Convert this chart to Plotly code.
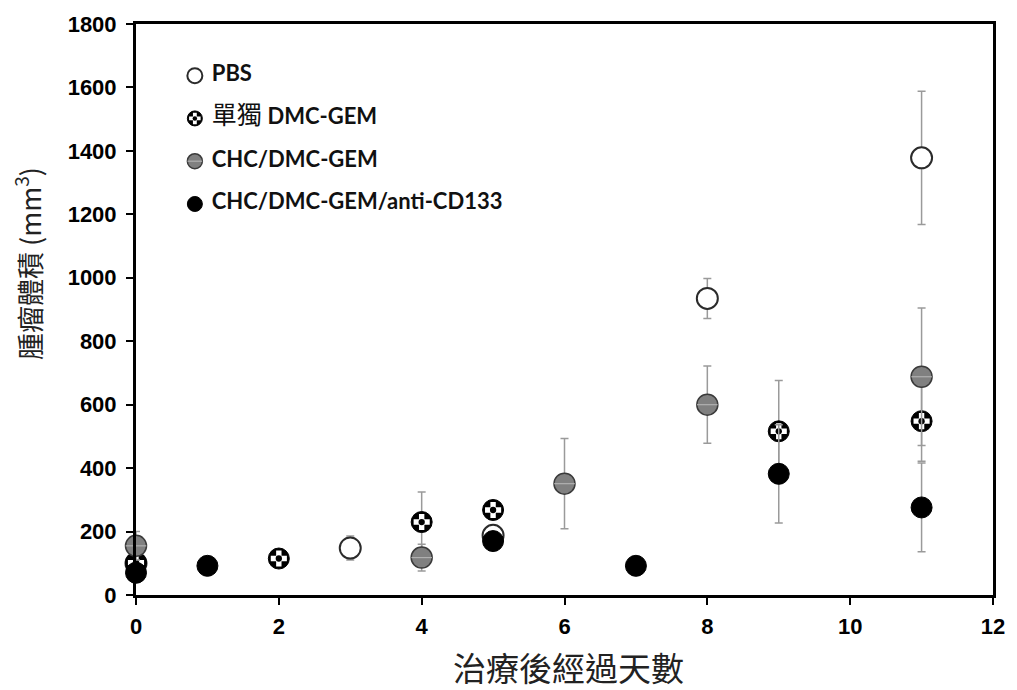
import plotly.graph_objects as go

# ---- data: tumour volume (mm^3) by days after treatment ----
pbs_days = [0, 3, 5, 8, 11]
pbs_vol = [100, 148, 188, 935, 1378]
pbs_err = [15, 38, 20, 63, 210]

dmc_days = [0, 2, 4, 5, 9, 11]
dmc_vol = [102, 115, 230, 268, 516, 548]
dmc_err = [12, 10, 95, 15, 160, 126]

chc_days = [0, 4, 6, 8, 11]
chc_vol = [155, 118, 351, 600, 688]
chc_err = [45, 42, 142, 122, 217]

cd133_days = [0, 1, 5, 7, 9, 11]
cd133_vol = [70, 92, 170, 92, 382, 276]
cd133_err = [20, 10, 15, 10, 155, 140]

series_names = [
    "<b>PBS</b>",
    '<span style="font-size:25px">單獨</span> <b>DMC-GEM</b>',
    "<b>CHC/DMC-GEM</b>",
    "<b>CHC/DMC-GEM/anti-CD133</b>",
]

x_ticks = [0, 2, 4, 6, 8, 10, 12]
y_ticks = [0, 200, 400, 600, 800, 1000, 1200, 1400, 1600, 1800]

# ---- marker styles: stacked layers (symbol, relative size, fill, line colour, line width) ----
STYLES = [
    [("circle", 1.0, "white", "#2b2b2b", 2)],
    [("circle", 1.0, "black", "black", 1),
     ("cross", 0.64, "white", "white", 0),
     ("circle", 0.3, "black", "black", 0)],
    [("circle", 1.0, "#808080", "#3a3a3a", 1.5),
     ("line-ew", 0.7, "#b0b0b0", "#b0b0b0", 1.2)],
    [("circle", 1.0, "black", "black", 1)],
]

fig = go.Figure()


def add_series(x, y, err, layers, size, xaxis="x", yaxis="y", text=None):
    for i, (sym, scale, fill, lc, lw) in enumerate(layers):
        tr = dict(
            x=x, y=y, mode="markers", xaxis=xaxis, yaxis=yaxis,
            showlegend=False, hoverinfo="skip" if i else "x+y",
            cliponaxis=False,
            marker=dict(symbol=sym, size=size * scale, color=fill,
                        line=dict(color=lc, width=lw)),
        )
        if i == 0 and err is not None:
            tr["error_y"] = dict(type="data", array=err, visible=True,
                                 color="#9a9a9a", thickness=1.5, width=4)
        fig.add_trace(go.Scatter(**tr))
    if text is not None:
        fig.add_trace(go.Scatter(
            x=x, y=y, mode="text", text=text, textposition="middle right",
            xaxis=xaxis, yaxis=yaxis, showlegend=False, hoverinfo="skip",
            cliponaxis=False,
            textfont=dict(family="Lato, Noto Sans CJK TC",
                          size=22, color="#111111"),
        ))


all_series = [
    (pbs_days, pbs_vol, pbs_err),
    (dmc_days, dmc_vol, dmc_err),
    (chc_days, chc_vol, chc_err),
    (cd133_days, cd133_vol, cd133_err),
]
for (x, y, e), style in zip(all_series, STYLES):
    add_series(x, y, e, style, 21)

# ---- key drawn on an overlay axis: one row per series ----
for row, (name, style) in enumerate(zip(series_names, STYLES)):
    add_series([0], [row], None, style, 15, xaxis="x2", yaxis="y2",
               text=["   " + name])

W, H = 1017, 690
L, R, T, B = 136, 22, 21, 95
plot_w = W - L - R
plot_h = H - T - B

fig.update_layout(
    width=W, height=H,
    margin=dict(l=L, r=R, t=T, b=B),
    paper_bgcolor="white", plot_bgcolor="white",
    showlegend=False,
    font=dict(family="Liberation Sans", color="black"),
    xaxis=dict(
        range=[0, 12], tickvals=x_ticks, ticks="outside", ticklen=7,
        tickwidth=2, tickcolor="black", showline=True, linewidth=3,
        linecolor="black", mirror=True, showgrid=False, zeroline=False,
        ticklabelstandoff=3,
        tickfont=dict(family="Liberation Sans", size=22, weight="bold"),
    ),
    yaxis=dict(
        range=[0, 1800], tickvals=y_ticks, ticks="outside", ticklen=7,
        tickwidth=2, tickcolor="black", showline=True, linewidth=3,
        linecolor="black", mirror=True, showgrid=False, zeroline=False,
        ticklabelstandoff=5,
        tickfont=dict(family="Liberation Sans", size=22, weight="bold"),
    ),
    xaxis2=dict(overlaying="x", range=[-0.375, 5.085], visible=False,
                fixedrange=True),
    yaxis2=dict(overlaying="y", range=[12.14, -1.207], visible=False,
                fixedrange=True),
    annotations=[
        dict(text="腫瘤體積 (mm<sup>3</sup>)", textangle=-90,
             xref="paper", yref="paper",
             x=(28 - L) / plot_w, y=(H - B - 262) / plot_h,
             xanchor="center", yanchor="middle", showarrow=False,
             font=dict(family="Noto Sans CJK TC", size=27, color="#222222")),
        dict(text="治療後經過天數", xref="paper", yref="paper",
             x=(570 - L) / plot_w, y=(H - B - 667) / plot_h,
             xanchor="center", yanchor="middle", showarrow=False,
             font=dict(family="Noto Sans CJK TC", size=33, color="#222222")),
    ],
)

fig.write_html("out.html")
